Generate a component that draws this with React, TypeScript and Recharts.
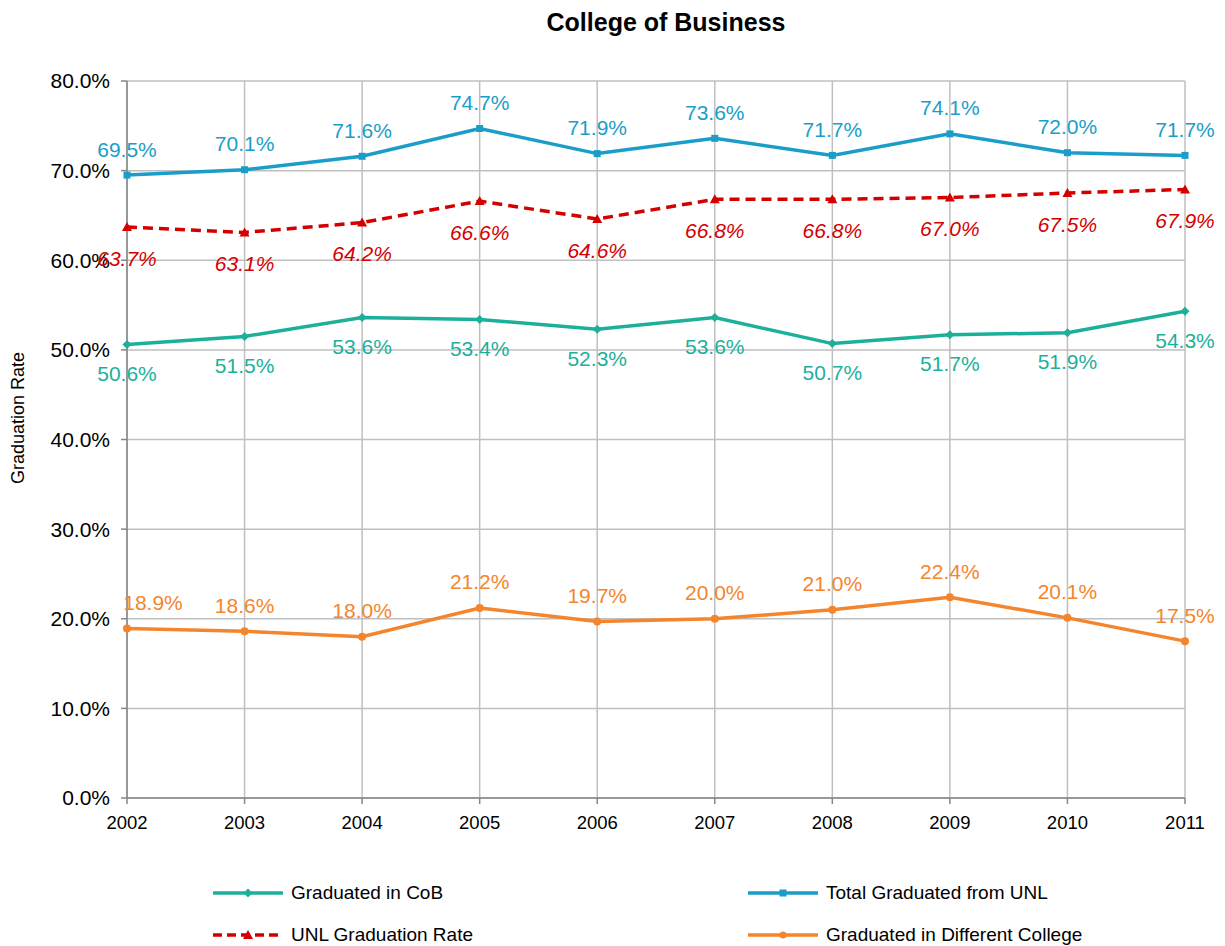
import React from 'react'
import { LineChart, Line, XAxis, YAxis, CartesianGrid, Legend } from 'recharts'

const years = ['2002', '2003', '2004', '2005', '2006', '2007', '2008', '2009', '2010', '2011']
const gradCoB = [50.6, 51.5, 53.6, 53.4, 52.3, 53.6, 50.7, 51.7, 51.9, 54.3]
const totalUNL = [69.5, 70.1, 71.6, 74.7, 71.9, 73.6, 71.7, 74.1, 72.0, 71.7]
const unlRate = [63.7, 63.1, 64.2, 66.6, 64.6, 66.8, 66.8, 67.0, 67.5, 67.9]
const diffCollege = [18.9, 18.6, 18.0, 21.2, 19.7, 20.0, 21.0, 22.4, 20.1, 17.5]
const yTicks = [0, 10, 20, 30, 40, 50, 60, 70, 80]

const C_COB = '#1cb09b'
const C_TOTAL = '#1a9ec9'
const C_UNL = '#d40000'
const C_DIFF = '#f5852c'
const FONT = '"Liberation Sans", Arial, sans-serif'

const data = years.map((y, i) => ({
  year: y,
  cob: gradCoB[i],
  total: totalUNL[i],
  unl: unlRate[i],
  diff: diffCollege[i],
}))

const fmt = (v: number) => v.toFixed(1) + '%'

// first orange label sits a bit to the right in the original
const makeLabel = (color: string, dy: number, italic = false, firstDx = 0) => (props: any) => {
  const { x, y, value, index } = props
  return (
    <text
      key={'l' + index}
      x={x + (index === 0 ? firstDx : 0)}
      y={y + dy}
      textAnchor="middle"
      dominantBaseline="central"
      fill={color}
      fontSize={21}
      fontStyle={italic ? 'italic' : 'normal'}
      fontFamily={FONT}
    >
      {fmt(value)}
    </text>
  )
}

const diamondDot = (props: any) => {
  const { cx, cy, index } = props
  const s = 4.5
  return <polygon key={'d' + index} points={`${cx},${cy - s} ${cx + s},${cy} ${cx},${cy + s} ${cx - s},${cy}`} fill={C_COB} />
}
const squareDot = (props: any) => {
  const { cx, cy, index } = props
  return <rect key={'s' + index} x={cx - 3.5} y={cy - 3.5} width={7} height={7} fill={C_TOTAL} />
}
const triDot = (props: any) => {
  const { cx, cy, index } = props
  return <polygon key={'t' + index} points={`${cx},${cy - 5} ${cx + 5},${cy + 4} ${cx - 5},${cy + 4}`} fill={C_UNL} />
}
const circleDot = (props: any) => {
  const { cx, cy, index } = props
  return <circle key={'c' + index} cx={cx} cy={cy} r={4} fill={C_DIFF} />
}

const legendItems = [
  { name: 'Graduated in CoB', color: C_COB, dash: false, marker: 'diamond' },
  { name: 'Total Graduated from UNL', color: C_TOTAL, dash: false, marker: 'square' },
  { name: 'UNL Graduation Rate', color: C_UNL, dash: true, marker: 'tri' },
  { name: 'Graduated in Different College', color: C_DIFF, dash: false, marker: 'circle' },
]

const LegendMarker = ({ color, dash, marker }: any) => (
  <svg width={72} height={12} style={{ marginRight: 7 }}>
    <line x1={1} y1={6} x2={71} y2={6} stroke={color} strokeWidth={3.5} strokeDasharray={dash ? '9 5' : undefined} />
    {marker === 'diamond' && <polygon points="36,1.5 40.5,6 36,10.5 31.5,6" fill={color} />}
    {marker === 'square' && <rect x={32.5} y={2.5} width={7} height={7} fill={color} />}
    {marker === 'tri' && <polygon points="36,1 41,10 31,10" fill={color} />}
    {marker === 'circle' && <circle cx={36} cy={6} r={3.5} fill={color} />}
  </svg>
)

const renderLegend = () => (
  <div style={{ position: 'relative', width: 1225, height: 76, fontFamily: FONT, fontSize: 19, color: '#000' }}>
    {legendItems.map((it, i) => (
      <div
        key={it.name}
        style={{
          position: 'absolute',
          left: i % 2 === 0 ? 212 : 747,
          top: i < 2 ? 12 : 54,
          display: 'flex',
          alignItems: 'center',
          lineHeight: '22px',
          whiteSpace: 'nowrap',
        }}
      >
        <LegendMarker color={it.color} dash={it.dash} marker={it.marker} />
        <span>{it.name}</span>
      </div>
    ))}
  </div>
)

const App = () => {
  return (
    <div style={{ position: 'fixed', top: 0, left: 0, width: 1225, height: 946, overflow: 'hidden', background: '#fff' }}>
      <div
        style={{
          position: 'absolute',
          top: 8,
          left: 0,
          width: 1332,
          textAlign: 'center',
          fontFamily: FONT,
          fontWeight: 'bold',
          fontSize: 25,
          color: '#000',
          zIndex: 2,
        }}
      >
        College of Business
      </div>
      <LineChart width={1225} height={946} data={data} margin={{ top: 81, right: 40, bottom: 32, left: 0 }}>
        <CartesianGrid stroke="#bfbfbf" strokeWidth={1.5} vertical horizontal />
        <XAxis
          dataKey="year"
          stroke="#868686"
          strokeWidth={1.5}
          tickSize={6}
          tickMargin={12}
          height={40}
          tick={{ fill: '#000', fontSize: 18.5, fontFamily: FONT }}
          interval={0}
        />
        <YAxis
          width={127}
          domain={[0, 80]}
          ticks={yTicks}
          tickFormatter={fmt}
          stroke="#868686"
          strokeWidth={1.5}
          tickSize={6}
          tickMargin={11}
          tick={{ fill: '#000', fontSize: 21, fontFamily: FONT }}
          label={{
            content: () => (
              <text
                x={24}
                y={418}
                transform="rotate(-90 24 418)"
                textAnchor="middle"
                fontSize={18}
                fontFamily={FONT}
                fill="#000"
              >
                Graduation Rate
              </text>
            ),
          }}
        />
        <Legend verticalAlign="bottom" wrapperStyle={{ position: 'absolute', left: 0, top: 870, width: 1225 }} content={renderLegend} />
        <Line dataKey="diff" stroke={C_DIFF} strokeWidth={3.5} dot={circleDot} label={makeLabel(C_DIFF, -26, false, 26)} isAnimationActive={false} />
        <Line dataKey="cob" stroke={C_COB} strokeWidth={3.5} dot={diamondDot} label={makeLabel(C_COB, 29)} isAnimationActive={false} />
        <Line dataKey="unl" stroke={C_UNL} strokeWidth={3.5} strokeDasharray="10 6" dot={triDot} label={makeLabel(C_UNL, 31, true)} isAnimationActive={false} />
        <Line dataKey="total" stroke={C_TOTAL} strokeWidth={3.5} dot={squareDot} label={makeLabel(C_TOTAL, -26)} isAnimationActive={false} />
      </LineChart>
    </div>
  )
}

export default App
